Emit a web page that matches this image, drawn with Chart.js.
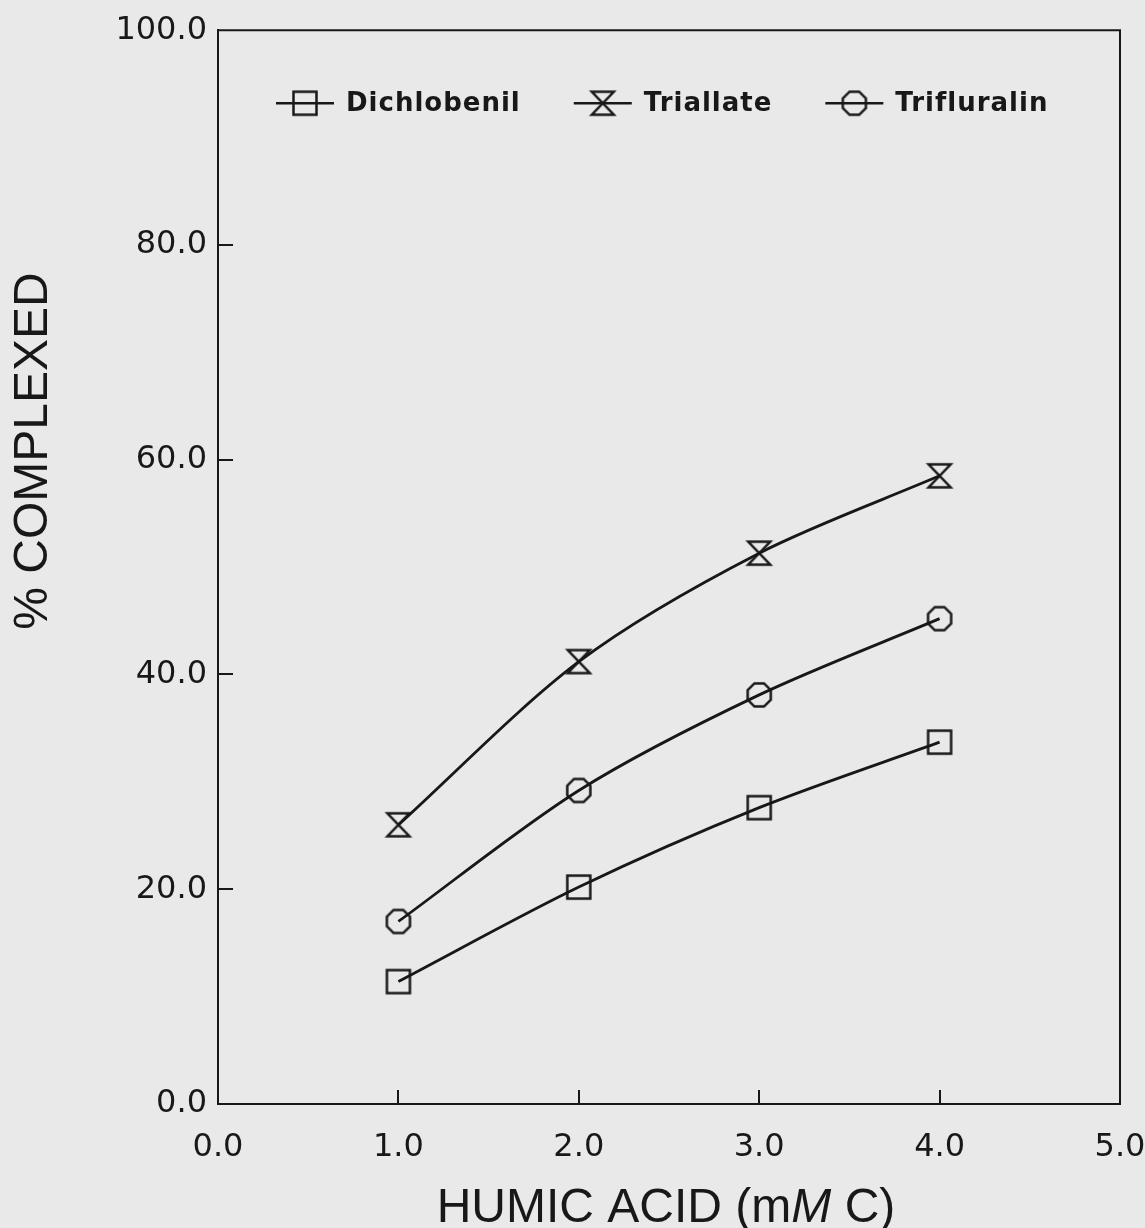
<!DOCTYPE html>
<html>
<head>
<meta charset="utf-8">
<title>% Complexed vs Humic Acid</title>
<script src="https://cdn.jsdelivr.net/npm/chart.js@4.4.1/dist/chart.umd.min.js"></script>
<style>
  html, body { margin: 0; padding: 0; background: #e9e9e9; }
  #wrap { width: 1145px; height: 1228px; }
</style>
</head>
<body>
<div id="wrap"><canvas id="complexChart" width="1145" height="1228"></canvas></div>
<script>
// Data
const humicAcid = [1.0, 2.0, 3.0, 4.0];          // mM C
const dichlobenil = [11.4, 20.2, 27.6, 33.7];     // % complexed
const triallate = [26.0, 41.2, 51.3, 58.5];
const trifluralin = [17.0, 29.2, 38.1, 45.2];
const seriesNames = ['Dichlobenil', 'Triallate', 'Trifluralin'];
const xTickValues = [0, 1, 2, 3, 4, 5];
const yTickValues = [0, 20, 40, 60, 80, 100];

const INK = '#181818';

// Open markers drawn once on small canvases, used as point styles
function makeMarker(kind) {
  const c = document.createElement('canvas');
  c.width = 30;
  c.height = 30;
  const ctx = c.getContext('2d');
  ctx.strokeStyle = INK;
  ctx.lineWidth = 2.5;
  ctx.translate(15, 15);
  ctx.beginPath();
  if (kind === 'square') {
    ctx.rect(-11.5, -11.5, 23, 23);
  } else if (kind === 'hourglass') {
    ctx.moveTo(-11, -11.5);
    ctx.lineTo(11, -11.5);
    ctx.lineTo(-11, 11.5);
    ctx.lineTo(11, 11.5);
    ctx.closePath();
  } else {
    for (let i = 0; i < 8; i++) {
      const a = Math.PI / 8 + i * Math.PI / 4;
      const px = 12.5 * Math.cos(a), py = 12.5 * Math.sin(a);
      if (i === 0) ctx.moveTo(px, py); else ctx.lineTo(px, py);
    }
    ctx.closePath();
  }
  ctx.stroke();
  return c;
}

const markers = [makeMarker('square'), makeMarker('hourglass'), makeMarker('octagon')];

function toPoints(values) {
  return humicAcid.map((x, i) => ({ x: x, y: values[i] }));
}

// Frame, inward ticks, axis titles and legend
const framePlugin = {
  id: 'frame',
  afterDraw(chart) {
    const ctx = chart.ctx;
    const area = chart.chartArea;
    const xs = chart.scales.x;
    const ys = chart.scales.y;

    ctx.save();
    ctx.strokeStyle = INK;
    ctx.lineWidth = 2;
    ctx.beginPath();
    ctx.moveTo(area.left, area.top);
    ctx.lineTo(area.right, area.top);
    ctx.lineTo(area.right, area.bottom);
    // inward ticks
    xTickValues.slice(1, -1).forEach(v => {
      const px = Math.round(xs.getPixelForValue(v));
      ctx.moveTo(px, area.bottom);
      ctx.lineTo(px, area.bottom - 14);
    });
    yTickValues.slice(1, -1).forEach(v => {
      const py = Math.round(ys.getPixelForValue(v));
      ctx.moveTo(area.left, py);
      ctx.lineTo(area.left + 15, py);
    });
    ctx.stroke();

    // x-axis title with italic M
    ctx.fillStyle = INK;
    ctx.textBaseline = 'alphabetic';
    ctx.textAlign = 'left';
    const parts = [
      ['HUMIC ACID (m', '48px "Liberation Sans", Arial, sans-serif'],
      ['M', 'italic 48px "Liberation Sans", Arial, sans-serif'],
      [' C)', '48px "Liberation Sans", Arial, sans-serif']
    ];
    let total = 0;
    parts.forEach(p => { ctx.font = p[1]; total += ctx.measureText(p[0]).width; });
    let tx = (area.left + area.right) / 2 - 3 - total / 2;
    parts.forEach(p => {
      ctx.font = p[1];
      ctx.fillText(p[0], tx, 1222);
      tx += ctx.measureText(p[0]).width;
    });

    // y-axis title
    ctx.save();
    ctx.translate(47, 451);
    ctx.rotate(-Math.PI / 2);
    ctx.textAlign = 'center';
    ctx.font = '48px "Liberation Sans", Arial, sans-serif';
    ctx.fillText('% COMPLEXED', 0, 0);
    ctx.restore();

    // legend inside the plot
    const ly = area.top + 73;
    let lx = area.left + 58;
    ctx.font = 'bold 26px "DejaVu Sans", sans-serif';
    ctx.letterSpacing = '1px';
    ctx.textBaseline = 'middle';
    chart.data.datasets.forEach((ds, i) => {
      ctx.beginPath();
      ctx.lineWidth = 2.5;
      ctx.moveTo(lx, ly);
      ctx.lineTo(lx + 58, ly);
      ctx.stroke();
      const m = markers[i];
      ctx.drawImage(m, lx + 29 - m.width / 2, ly - m.height / 2);
      const textX = lx + 70;
      ctx.fillText(ds.label, textX, ly + 1);
      lx = textX + ctx.measureText(ds.label).width + 53;
    });
    ctx.restore();
  }
};

const lineStyle = {
  borderColor: INK,
  borderWidth: 2.8,
  backgroundColor: 'transparent',
  tension: 0.3,
  fill: false,
  pointRadius: 12,
  pointHoverRadius: 12
};

new Chart(document.getElementById('complexChart'), {
  type: 'line',
  data: {
    datasets: [
      Object.assign({ label: seriesNames[0], data: toPoints(dichlobenil), pointStyle: markers[0] }, lineStyle),
      Object.assign({ label: seriesNames[1], data: toPoints(triallate), pointStyle: markers[1] }, lineStyle),
      Object.assign({ label: seriesNames[2], data: toPoints(trifluralin), pointStyle: markers[2] }, lineStyle)
    ]
  },
  options: {
    responsive: false,
    animation: false,
    layout: { padding: { top: 29, right: 0, left: 0, bottom: 0 } },
    plugins: {
      legend: { display: false },
      tooltip: { enabled: false }
    },
    scales: {
      x: {
        type: 'linear',
        min: 0,
        max: 5,
        afterBuildTicks: scale => { scale.ticks = xTickValues.map(v => ({ value: v })); },
        afterFit: scale => {
          scale.height = 124;
          scale.paddingRight = 25; // room for the "5.0" label only
        },
        grid: { display: false, drawTicks: false },
        border: { display: true, color: INK, width: 2 },
        ticks: {
          padding: 24,
          color: INK,
          font: { family: '"DejaVu Sans", sans-serif', size: 32 },
          callback: v => Number(v).toFixed(1)
        }
      },
      y: {
        type: 'linear',
        min: 0,
        max: 100,
        afterBuildTicks: scale => { scale.ticks = yTickValues.map(v => ({ value: v })); },
        afterFit: scale => { scale.width = 218; },
        grid: { display: false, drawTicks: false },
        border: { display: true, color: INK, width: 2 },
        ticks: {
          padding: 11,
          color: INK,
          font: { family: '"DejaVu Sans", sans-serif', size: 32 },
          callback: v => Number(v).toFixed(1)
        }
      }
    }
  },
  plugins: [framePlugin]
});
</script>
</body>
</html>
